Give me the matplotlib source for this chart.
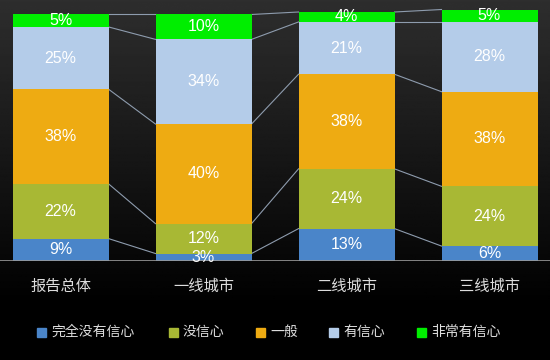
import matplotlib
matplotlib.use('Agg')
import matplotlib.pyplot as plt
import numpy as np
from matplotlib.patches import Rectangle

plt.rcParams['font.family'] = ['Noto Sans CJK SC', 'DejaVu Sans']

categories = ['报告总体', '一线城市', '二线城市', '三线城市']
series = ['完全没有信心', '没信心', '一般', '有信心', '非常有信心']
values = [
    [9, 3, 13, 6],      # 完全没有信心
    [22, 12, 24, 24],   # 没信心
    [38, 40, 38, 38],   # 一般
    [25, 34, 21, 28],   # 有信心
    [5, 10, 4, 5],      # 非常有信心
]
colors = ['#4a85c9', '#a8b834', '#eeab12', '#b4cce9', '#00ee00']

W, H = 550, 360
fig = plt.figure(figsize=(W / 100, H / 100), dpi=100)

# background gradient
bg = fig.add_axes([0, 0, 1, 1])
bg.set_axis_off()
grad = np.clip(np.linspace(0.18, -0.03, 256), 0, 1)
grad = np.vstack([grad] * 2).T
bg.imshow(grad, cmap='gray', vmin=0, vmax=1, aspect='auto', extent=[0, 1, 0, 1])
bg.set_xlim(0, 1)
bg.set_ylim(0, 1)

base_px = 261
ax = fig.add_axes([0, (H - base_px) / H, 1, base_px / H])
ax.set_facecolor('none')
px_per_unit = 2.49
ax.set_ylim(0, base_px / px_per_unit)
ax.set_xlim(-60.5 / 143, (W - 60.5) / 143)
width = 96 / 143

x = np.arange(len(categories))
vals = np.array(values, dtype=float)
bottoms = np.zeros(len(categories))
for i, name in enumerate(series):
    ax.bar(x, vals[i], width, bottom=bottoms, color=colors[i], linewidth=0, zorder=2)
    for j in range(len(categories)):
        ax.text(x[j], bottoms[j] + vals[i][j] / 2, f'{int(vals[i][j])}%',
                ha='center', va='center', color='white', fontsize=11.5,
                family=['Liberation Sans', 'DejaVu Sans'], zorder=4)
    bottoms = bottoms + vals[i]
    # connector lines from top of each segment to the next bar
    for j in range(len(categories) - 1):
        ax.plot([x[j] + width / 2, x[j + 1] - width / 2], [bottoms[j], bottoms[j + 1]],
                color='#8e9cae', lw=0.8, zorder=1)

ax.axhline(0, color='#9a9a9a', lw=1.2, zorder=3)
ax.set_xticks(x)
ax.set_xticklabels(categories, color='#dddddd', fontsize=11)
ax.tick_params(axis='x', length=0, pad=12)
ax.set_yticks([])
for s in ax.spines.values():
    s.set_visible(False)

# legend
leg_x = [37, 169, 256, 329, 417]
for i, name in enumerate(series):
    fig.patches.append(Rectangle((leg_x[i] / W, (H - 337) / H), 9 / W, 9 / H,
                                 transform=fig.transFigure, color=colors[i]))
    fig.text((leg_x[i] + 14) / W, (H - 332) / H, name, color='#dddddd',
             fontsize=10, va='center', ha='left')

fig.savefig('out.png', dpi=100)
